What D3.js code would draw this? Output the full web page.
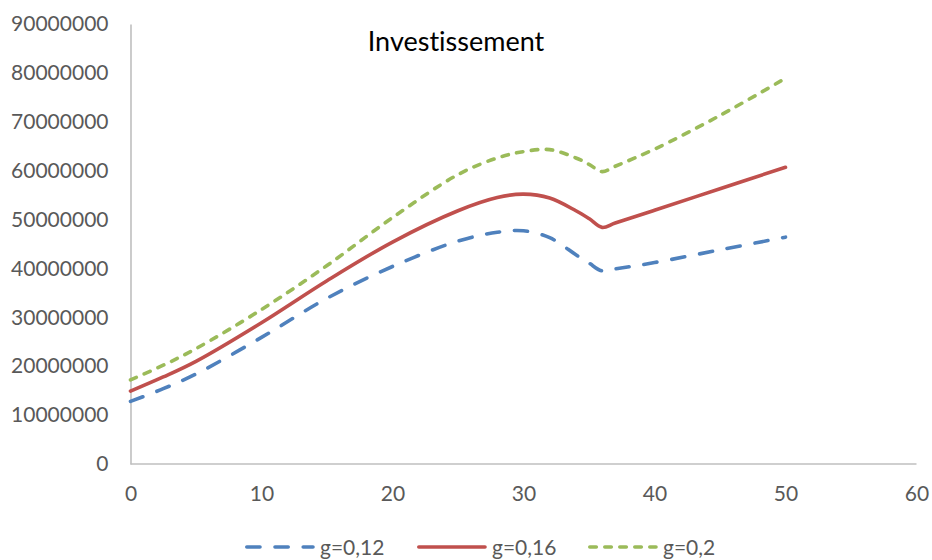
<!DOCTYPE html>
<html>
<head>
<meta charset="utf-8">
<script src="https://cdn.jsdelivr.net/npm/d3@7/dist/d3.min.js"></script>
<style>
  html, body { margin: 0; padding: 0; background: #fff; }
  svg { display: block; }
  text { font-family: Lato, "Open Sans", sans-serif; font-variant-ligatures: none; }
</style>
</head>
<body>
<svg id="chart" width="932" height="560"></svg>
<script>
// Years on the horizontal axis
const years = [0, 2.5, 5, 10, 15, 20, 25, 28, 30, 32, 34, 35, 36, 37, 40, 45, 50];

// Investment for each growth rate g
const invG012 = [12800000, 15400000, 18400000, 25900000, 33900000, 40400000, 45600000, 47400000, 47700000,
                 46300000, 42800000, 41100000, 39500000, 39900000, 41200000, 43800000, 46400000];
const invG016 = [14900000, 17800000, 21000000, 28900000, 37500000, 45400000, 51800000, 54500000, 55200000,
                 54400000, 51800000, 50200000, 48400000, 49300000, 51900000, 56300000, 60700000];
const invG020 = [17200000, 20200000, 23600000, 31600000, 40600000, 50400000, 59200000, 62600000, 63900000,
                 64300000, 62600000, 61300000, 59800000, 60900000, 64400000, 71300000, 78900000];

const seriesNames = ["g=0,12", "g=0,16", "g=0,2"];
const xTicks = [0, 10, 20, 30, 40, 50, 60];
const yTicks = [0, 10000000, 20000000, 30000000, 40000000, 50000000, 60000000, 70000000, 80000000, 90000000];

const styles = [
  { color: "#4F81BD", dash: "13.2,15" },
  { color: "#C0504D", dash: null },
  { color: "#9BBB59", dash: "6.5,8.5" }
];

const svg = d3.select("#chart");
const x = d3.scaleLinear().domain([0, 60]).range([130.5, 916.5]);
const y = d3.scaleLinear().domain([0, 90000000]).range([464, 24]);

const axisColor = "#BFBFBF";
const labelColor = "#595959";

// Axes
const yAxis = svg.append("g").attr("transform", "translate(130.5,0)")
  .call(d3.axisLeft(y).tickValues(yTicks).tickFormat(d3.format("d")).tickSize(0).tickPadding(22));
const xAxis = svg.append("g").attr("transform", "translate(0,464)")
  .call(d3.axisBottom(x).tickValues(xTicks).tickFormat(d3.format("d")).tickSize(0).tickPadding(22));

[yAxis, xAxis].forEach(a => {
  a.select(".domain").attr("stroke", axisColor).attr("stroke-width", 1.6);
  a.selectAll("text").attr("fill", labelColor).style("font-size", "21px")
    .style("font-family", "Lato, 'Open Sans', sans-serif");
});
xAxis.select(".domain").attr("d", `M${x(0)},0H${x(60)}`);

// Lines
const data = [invG012, invG016, invG020];
const line = d3.line()
  .x((d, i) => x(years[i]))
  .y(d => y(d))
  .curve(d3.curveCatmullRom.alpha(0.5));

data.forEach((vals, k) => {
  svg.append("path")
    .datum(vals)
    .attr("d", line)
    .attr("fill", "none")
    .attr("stroke", styles[k].color)
    .attr("stroke-width", 3.6)
    .attr("stroke-linecap", "round")
    .attr("stroke-linejoin", "round")
    .attr("stroke-dasharray", styles[k].dash);
});

// Title
svg.append("text")
  .attr("x", 456).attr("y", 51)
  .attr("text-anchor", "middle")
  .attr("fill", "#000")
  .style("font-size", "27px")
  .text("Investissement");

// Legend
const legendX = [245, 417, 588];
seriesNames.forEach((name, k) => {
  const g = svg.append("g").attr("transform", `translate(${legendX[k]},547)`);
  g.append("line")
    .attr("x1", 1.8).attr("x2", 68)
    .attr("y1", 0).attr("y2", 0)
    .attr("stroke", styles[k].color)
    .attr("stroke-width", 3.6)
    .attr("stroke-linecap", "round")
    .attr("stroke-dasharray", styles[k].dash);
  g.append("text")
    .attr("x", 75).attr("y", 7.5)
    .attr("fill", labelColor)
    .style("font-size", "21px")
    .text(name);
});
</script>
</body>
</html>
